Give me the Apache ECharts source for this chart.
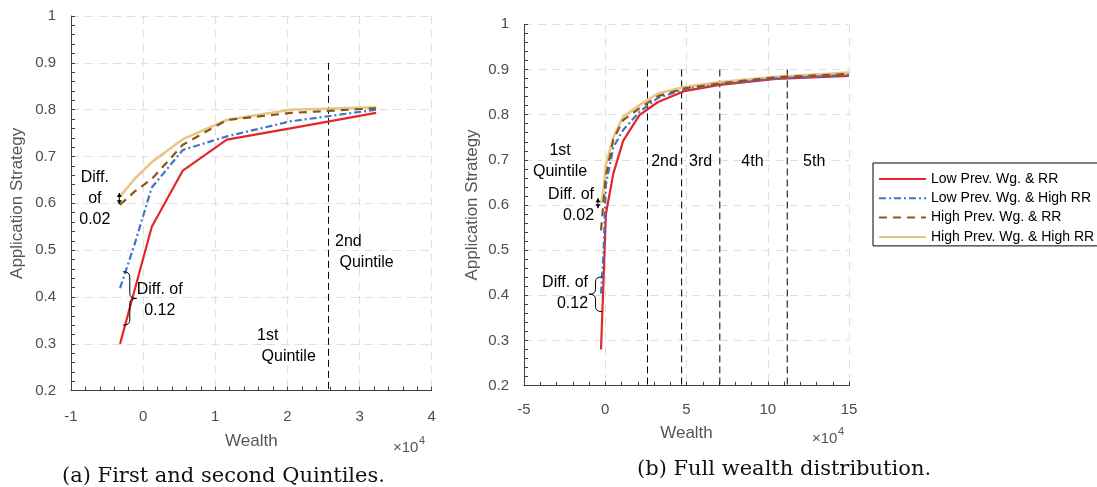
<!DOCTYPE html>
<html>
<head>
<meta charset="utf-8">
<script src="https://cdn.jsdelivr.net/npm/echarts@6/dist/echarts.min.js"></script>
<style>
html,body{margin:0;padding:0;background:#fff;}
#main{width:1097px;height:487px;}
</style>
</head>
<body>
<div id="main"></div>
<script>
// panel (a): first and second quintiles
var wealthA = [-3200, -1200, 1200, 5500, 11600, 20400, 32300];
var lowRR_A = [0.300, 0.414, 0.550, 0.670, 0.736, 0.760, 0.793];
var lowHighRR_A = [0.419, 0.512, 0.634, 0.714, 0.743, 0.775, 0.800];
var highRR_A = [0.597, 0.625, 0.652, 0.725, 0.778, 0.793, 0.803];
var highHighRR_A = [0.615, 0.652, 0.688, 0.737, 0.778, 0.800, 0.805];

// panel (b): full distribution
var wealthB = [-2600, -1000, 400, 5000, 11000, 21000, 32500, 48500, 70500, 105000, 150000];
var lowRR_B = [0.280, 0.440, 0.580, 0.670, 0.742, 0.799, 0.828, 0.852, 0.866, 0.879, 0.886];
var lowHighRR_B = [0.404, 0.500, 0.645, 0.728, 0.766, 0.806, 0.837, 0.856, 0.868, 0.880, 0.888];
var highRR_B = [0.544, 0.610, 0.665, 0.745, 0.788, 0.814, 0.841, 0.858, 0.869, 0.883, 0.890];
var highHighRR_B = [0.604, 0.635, 0.690, 0.750, 0.795, 0.821, 0.847, 0.861, 0.872, 0.884, 0.893];

var seriesNames = ['Low Prev. Wg. & RR', 'Low Prev. Wg. & High RR', 'High Prev. Wg. & RR', 'High Prev. Wg. & High RR'];

// quintile cut-offs (vertical dashed lines)
var quintilesA = [25700];
var quintilesB = [26000, 47000, 70500, 112000];

// annotations
var notesA = [
	{text: 'Diff.\nof\n0.02', x: -6700, y: 0.61, align: 'center'},
	{text: 'Diff. of\n0.12', x: 2300, y: 0.394, align: 'center'},
	{text: '2nd\n Quintile', x: 26600, y: 0.496, align: 'left'},
	{text: '1st\n Quintile', x: 15800, y: 0.2955, align: 'left'}
];
var notesB = [
	{text: '1st\nQuintile', x: -27800, y: 0.697, align: 'center'},
	{text: 'Diff. of\n0.02', x: -6900, y: 0.600, align: 'right'},
	{text: 'Diff. of\n0.12', x: -10600, y: 0.404, align: 'right'},
	{text: '2nd', x: 36500, y: 0.697, align: 'center'},
	{text: '3rd', x: 58700, y: 0.697, align: 'center'},
	{text: '4th', x: 90600, y: 0.697, align: 'center'},
	{text: '5th', x: 128600, y: 0.697, align: 'center'}
];
// braces: [x of ends, x of tip, top, bottom]
var bracesA = [[-2800, -900, 0.454, 0.340]];
var bracesB = [[-2000, -10000, 0.441, 0.364]];
// small double arrows: [x, top, bottom]
var arrowsA = [[-3300, 0.622, 0.598]];
var arrowsB = [[-4500, 0.615, 0.593]];

var colors = ['#e4262b', '#4472c4', '#8a5518', '#e6c788'];
var dashes = ['solid', [7, 3, 2, 3], [8, 6], 'solid'];
var widths = [2.2, 2.2, 2.2, 2.6];

var dom = document.getElementById('main');
var myChart = echarts.init(dom);

function pairs(xs, ys) {
	return xs.map(function(x, i) { return [x, ys[i]]; });
}

function makeLines(idx, sets, xs) {
	return sets.map(function(ys, k) {
		return {
			name: seriesNames[k],
			type: 'line',
			xAxisIndex: idx,
			yAxisIndex: idx,
			data: pairs(xs, ys),
			symbol: 'none',
			showSymbol: false,
			color: colors[k],
			lineStyle: {color: colors[k], width: widths[k], type: dashes[k]},
			z: 5 - (k == 3 ? 1 : 0),
			animation: false
		};
	});
}

function noteSeries(idx, list) {
	return {
		type: 'custom',
		xAxisIndex: idx,
		yAxisIndex: idx,
		data: list.map(function(n) { return [n.x, n.y]; }),
		silent: true,
		z: 10,
		renderItem: function(params, api) {
			var n = list[params.dataIndex];
			var p = api.coord([api.value(0), api.value(1)]);
			return {
				type: 'text',
				x: p[0],
				y: p[1],
				style: {
					text: n.text,
					fill: '#000',
					fontSize: 16,
					fontFamily: 'Liberation Sans',
					lineHeight: 21,
					align: n.align,
					textAlign: n.align,
					verticalAlign: 'middle',
					textVerticalAlign: 'middle'
				}
			};
		}
	};
}

function quintileSeries(idx, list) {
	return {
		type: 'custom',
		xAxisIndex: idx,
		yAxisIndex: idx,
		data: list.map(function(x) { return [x, 0.9, 0.2]; }),
		silent: true,
		z: 3,
		renderItem: function(params, api) {
			var a = api.coord([api.value(0), api.value(1)]);
			var b = api.coord([api.value(0), api.value(2)]);
			return {
				type: 'line',
				shape: {x1: a[0], y1: a[1], x2: b[0], y2: b[1]},
				style: {stroke: '#000', lineWidth: 1, lineDash: [7, 4]}
			};
		}
	};
}

function braceSeries(idx, list) {
	return {
		type: 'custom',
		xAxisIndex: idx,
		yAxisIndex: idx,
		data: list,
		silent: true,
		z: 10,
		renderItem: function(params, api) {
			var e = api.coord([api.value(0), api.value(2)]);
			var t = api.coord([api.value(1), api.value(3)]);
			var xe = e[0], xt = t[0], yt = e[1], yb = t[1];
			var xm = (xe + xt) / 2, ym = (yt + yb) / 2, q = 5;
			var st = {stroke: '#000', lineWidth: 1, fill: null};
			return {
				type: 'group',
				children: [
					{type: 'bezierCurve', shape: {x1: xe, y1: yt, x2: xm, y2: yt + q, cpx1: xm, cpy1: yt}, style: st},
					{type: 'line', shape: {x1: xm, y1: yt + q, x2: xm, y2: ym - q}, style: st},
					{type: 'bezierCurve', shape: {x1: xm, y1: ym - q, x2: xt, y2: ym, cpx1: xm, cpy1: ym}, style: st},
					{type: 'bezierCurve', shape: {x1: xt, y1: ym, x2: xm, y2: ym + q, cpx1: xm, cpy1: ym}, style: st},
					{type: 'line', shape: {x1: xm, y1: ym + q, x2: xm, y2: yb - q}, style: st},
					{type: 'bezierCurve', shape: {x1: xm, y1: yb - q, x2: xe, y2: yb, cpx1: xm, cpy1: yb}, style: st}
				]
			};
		}
	};
}

function arrowSeries(idx, list) {
	return {
		type: 'custom',
		xAxisIndex: idx,
		yAxisIndex: idx,
		data: list,
		silent: true,
		z: 10,
		renderItem: function(params, api) {
			var a = api.coord([api.value(0), api.value(1)]);
			var b = api.coord([api.value(0), api.value(2)]);
			var x = a[0];
			return {
				type: 'group',
				children: [
					{type: 'line', shape: {x1: x, y1: a[1], x2: x, y2: b[1]}, style: {stroke: '#000', lineWidth: 1}},
					{type: 'polygon', shape: {points: [[x, a[1]], [x - 2.5, a[1] + 4], [x + 2.5, a[1] + 4]]}, style: {fill: '#000'}},
					{type: 'polygon', shape: {points: [[x, b[1]], [x - 2.5, b[1] - 4], [x + 2.5, b[1] - 4]]}, style: {fill: '#000'}}
				]
			};
		}
	};
}

var axisGray = '#404040';
var labelGray = '#4d4d4d';

function xAxisOf(idx, min, max, step) {
	return {
		type: 'value',
		gridIndex: idx,
		min: min,
		max: max,
		interval: step,
		name: 'Wealth',
		nameLocation: 'middle',
		nameGap: idx == 0 ? 42 : 39,
		nameTextStyle: {color: '#555', fontSize: 17, fontFamily: 'Liberation Sans'},
		axisLine: {onZero: false, lineStyle: {color: axisGray, width: 1}},
		axisTick: {inside: true, length: 4, lineStyle: {color: axisGray}},
		minorTick: {show: true, splitNumber: 5, length: 4, lineStyle: {color: axisGray}},
		axisLabel: {
			color: labelGray, fontSize: 15, fontFamily: 'Liberation Sans', margin: idx == 0 ? 19 : 17,
			formatter: function(v) { return String(Math.round(v / 10000)); }
		},
		splitLine: {show: true, lineStyle: {color: '#e0e0e0', width: 1.2, type: [8, 6]}}
	};
}

function yAxisOf(idx) {
	return {
		type: 'value',
		gridIndex: idx,
		min: 0.2,
		max: 1,
		interval: 0.1,
		name: 'Application Strategy',
		nameLocation: 'middle',
		nameGap: idx == 0 ? 45 : 43,
		nameTextStyle: {color: '#555', fontSize: 17, fontFamily: 'Liberation Sans'},
		axisLine: {show: true, onZero: false, lineStyle: {color: axisGray, width: 1}},
		axisTick: {show: true, inside: true, length: 4, lineStyle: {color: axisGray}},
		minorTick: {show: true, splitNumber: 5, length: 4, lineStyle: {color: axisGray}},
		axisLabel: {
			color: labelGray, fontSize: 15, fontFamily: 'Liberation Sans', margin: 15,
			formatter: function(v) { return Math.abs(v - 1) < 1e-9 ? '1' : v.toFixed(1); }
		},
		splitLine: {show: true, lineStyle: {color: '#e0e0e0', width: 1.2, type: [8, 6]}}
	};
}

var option = {
	backgroundColor: '#fff',
	animation: false,
	grid: [
		{left: 71, top: 16, width: 360.7, height: 374.7},
		{left: 524, top: 24.3, width: 325, height: 361.4}
	],
	xAxis: [xAxisOf(0, -10000, 40000, 10000), xAxisOf(1, -50000, 150000, 50000)],
	yAxis: [yAxisOf(0), yAxisOf(1)],
	legend: {
		data: seriesNames,
		orient: 'vertical',
		left: 873,
		top: 163,
		itemWidth: 47,
		itemHeight: 14,
		itemGap: 5.3,
		padding: [9, 30, 2, 5],
		borderColor: '#000',
		borderWidth: 1,
		backgroundColor: '#fff',
		selectedMode: false,
		itemStyle: {opacity: 0},
		textStyle: {color: '#000', fontSize: 14, fontFamily: 'Liberation Sans'}
	},
	graphic: [
		{type: 'text', left: 393, top: 440, style: {text: '×10', fill: '#555', fontSize: 15, fontFamily: 'Liberation Sans'}},
		{type: 'text', left: 419, top: 435, style: {text: '4', fill: '#555', fontSize: 11, fontFamily: 'Liberation Sans'}},
		{type: 'text', left: 812, top: 431, style: {text: '×10', fill: '#555', fontSize: 15, fontFamily: 'Liberation Sans'}},
		{type: 'text', left: 838, top: 426, style: {text: '4', fill: '#555', fontSize: 11, fontFamily: 'Liberation Sans'}},
		{type: 'text', left: 62, top: 466, style: {text: '(a) First and second Quintiles.', fill: '#111', fontSize: 21, fontFamily: 'DejaVu Serif'}},
		{type: 'text', left: 637, top: 459, style: {text: '(b) Full wealth distribution.', fill: '#111', fontSize: 21, fontFamily: 'DejaVu Serif'}}
	],
	series: [].concat(
		makeLines(0, [lowRR_A, lowHighRR_A, highRR_A, highHighRR_A], wealthA),
		makeLines(1, [lowRR_B, lowHighRR_B, highRR_B, highHighRR_B], wealthB),
		[
			quintileSeries(0, quintilesA),
			quintileSeries(1, quintilesB),
			noteSeries(0, notesA),
			noteSeries(1, notesB),
			braceSeries(0, bracesA),
			braceSeries(1, bracesB),
			arrowSeries(0, arrowsA),
			arrowSeries(1, arrowsB)
		]
	)
};

if (option && typeof option === "object") {
	myChart.setOption(option, true);
}
</script>
</body>
</html>
